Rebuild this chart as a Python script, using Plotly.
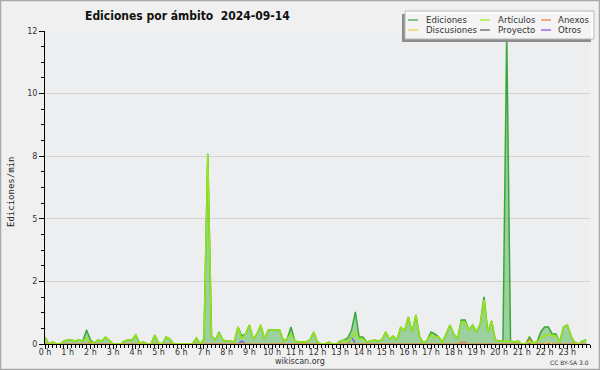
import plotly.graph_objects as go

# ---- data (edits per minute, 10-minute bins) ----
minutes = list(range(0, 1440, 10))

ediciones = [0.28, 0, 0.08, 0, 0, 0.12, 0.16, 0.16, 0.12, 0.16, 0.12, 0.56,
             0.16, 0.04, 0.16, 0.12, 0.28, 0.12, 0, 0, 0, 0.12, 0.16, 0.16,
             0.36, 0.04, 0.08, 0, 0, 0.36, 0.04, 0, 0.28, 0.2, 0, 0,
             0, 0, 0, 0, 0.24, 0, 0.2, 7.6, 0.32, 0.16, 0.48, 0.16,
             0.12, 0.12, 0.08, 0.68, 0.32, 0.4, 0.76, 0.2, 0.4, 0.76, 0.2, 0.56,
             0.56, 0.56, 0.56, 0.12, 0.2, 0.68, 0.12, 0.08, 0.08, 0.08, 0.16, 0.48,
             0.08, 0, 0, 0.08, 0, 0, 0.12, 0.16, 0.24, 0.56, 1.28, 0.28,
             0.28, 0.08, 0.12, 0.16, 0.12, 0.16, 0.48, 0.2, 0.32, 0.16, 0.68, 0.52,
             1.08, 0.48, 1.16, 0.28, 0.04, 0.16, 0.48, 0.4, 0.28, 0.08, 0.4, 0.76,
             0.4, 0.2, 0.96, 0.96, 0.56, 0.76, 0.48, 0.8, 1.88, 0.48, 0.92, 0.16,
             0.12, 0.12, 12.4, 0.12, 0.08, 0.12, 0, 0, 0.28, 0.04, 0.08, 0.48,
             0.68, 0.68, 0.4, 0.4, 0.08, 0.68, 0.76, 0.32, 0.04, 0, 0.12, 0.16]

articulos = [0.28, 0, 0.08, 0, 0, 0.12, 0.16, 0.16, 0.12, 0.16, 0.12, 0.24,
             0.08, 0.04, 0.16, 0.12, 0.28, 0.12, 0, 0, 0, 0.12, 0.16, 0.16,
             0.36, 0.04, 0.08, 0, 0, 0.36, 0.04, 0, 0.28, 0.2, 0, 0,
             0, 0, 0, 0, 0.24, 0, 0.2, 7.6, 0.32, 0.16, 0.44, 0.16,
             0.12, 0.12, 0.08, 0.68, 0.2, 0.4, 0.76, 0.2, 0.4, 0.76, 0.2, 0.56,
             0.56, 0.56, 0.56, 0.12, 0.2, 0.4, 0.12, 0.08, 0.08, 0.08, 0.16, 0.48,
             0.08, 0, 0, 0.08, 0, 0, 0.12, 0.16, 0.08, 0.24, 0.48, 0.2,
             0.2, 0.08, 0.12, 0.16, 0.12, 0.16, 0.48, 0.2, 0.32, 0.16, 0.68, 0.52,
             1.08, 0.48, 1.16, 0.28, 0.04, 0.16, 0.36, 0.28, 0.28, 0.08, 0.4, 0.76,
             0.4, 0.2, 0.88, 0.88, 0.56, 0.76, 0.48, 0.8, 1.76, 0.48, 0.92, 0.16,
             0.12, 0.12, 0.08, 0.12, 0.08, 0.12, 0, 0, 0.12, 0.04, 0.08, 0.24,
             0.32, 0.36, 0.36, 0.32, 0.08, 0.68, 0.76, 0.32, 0.04, 0, 0.12, 0.16]

anexos = [0] * 144
for i, v in {12: 0.08, 110: 0.08, 111: 0.08, 128: 0.2, 140: 0.08}.items():
    anexos[i] = v
discusiones = [0] * 144
for i, v in {128: 0.08, 133: 0.08}.items():
    discusiones[i] = v
otros = [0] * 144
for i, v in {52: 0.12, 81: 0.28}.items():
    otros[i] = v
proyecto = [0] * 144

hour_ticks = list(range(0, 1440, 60))
hour_labels = [f"{h} h" for h in range(24)]
y_tickvals = [0, 2.5, 5, 7.5, 10, 12.5]
y_ticktext = ["0", "2", "5", "8", "10", "12"]

# ---- layout helpers ----
W, H = 600, 370
L, R, T, B = 45, 10, 31, 26
PW, PH = W - L - R, H - T - B


def X(px):
    return (px - L) / PW


def Y(py):
    return (H - B - py) / PH


C_ED = "#38a838"
C_ART = "#99e614"
C_ANX = "#ee7744"
C_DIS = "#eecc44"
C_PRO = "#555555"
C_OTR = "#8844ee"

fig = go.Figure()
fig.add_trace(go.Scatter(x=minutes, y=ediciones, mode="lines", fill="tozeroy",
                         fillcolor="rgba(60,170,60,0.45)",
                         line=dict(color=C_ED, width=1.5), showlegend=False))
for vals, col in [(proyecto, C_PRO), (otros, C_OTR), (anexos, C_ANX), (discusiones, C_DIS)]:
    fig.add_trace(go.Scatter(x=minutes, y=vals, mode="lines",
                             line=dict(color=col, width=1.2), showlegend=False))
fig.add_trace(go.Scatter(x=minutes, y=articulos, mode="lines",
                         line=dict(color=C_ART, width=1.5), showlegend=False))

font_base = "DejaVu Sans, Verdana, sans-serif"

fig.update_layout(
    width=W, height=H,
    margin=dict(l=L, r=R, t=T, b=B),
    paper_bgcolor="#f0f0f0",
    plot_bgcolor="#eceef0",
    font=dict(family=font_base, size=8, color="#333333"),
    title=dict(text="<b>Ediciones por ámbito  2024-09-14</b>",
               x=85 / W, xanchor="left", xref="container",
               y=1 - 16 / H, yanchor="middle", yref="container",
               font=dict(family="Liberation Sans Narrow, DejaVu Sans Condensed, DejaVu Sans",
                         size=12, color="#111111")),
    xaxis=dict(range=[0, 1440], tickvals=hour_ticks, ticktext=hour_labels,
               showgrid=False, zeroline=False, showline=True, linecolor="black",
               linewidth=1, ticks="outside", ticklen=4, tickcolor="black",
               tickfont=dict(size=8, color="#333333"), ticklabelstandoff=-4,
               minor=dict(dtick=10, tick0=0, ticks="outside", ticklen=3,
                          tickcolor="black", showgrid=False),
               fixedrange=True),
    yaxis=dict(range=[0, 12.5], tickvals=y_tickvals, ticktext=y_ticktext,
               showgrid=True, gridcolor="#d2d2d2", gridwidth=1, zeroline=False,
               showline=True, linecolor="black", linewidth=1,
               ticks="outside", ticklen=5, tickcolor="black",
               tickfont=dict(size=8, color="#333333"),
               minor=dict(dtick=0.625, tick0=0, ticks="outside", ticklen=3,
                          tickcolor="black", showgrid=False),
               fixedrange=True),
    showlegend=False,
)

shapes = [
    # outer frame
    dict(type="rect", xref="paper", yref="paper", x0=X(0.5), x1=X(W - 0.5),
         y0=Y(H - 0.5), y1=Y(0.5), line=dict(color="#a8a8a8", width=1.5),
         fillcolor="rgba(0,0,0,0)", layer="above"),
    # legend shadow and box
    dict(type="rect", xref="paper", yref="paper", x0=X(402), x1=X(591),
         y0=Y(42), y1=Y(14), line=dict(width=0), fillcolor="#8c8c8c", layer="above"),
    dict(type="rect", xref="paper", yref="paper", x0=X(405), x1=X(594),
         y0=Y(39), y1=Y(11), line=dict(color="#b8b8b8", width=1),
         fillcolor="rgba(252,252,252,0.93)", layer="above"),
]

legend_items = [
    ("Ediciones", C_ED, 0, 0), ("Artículos", C_ART, 1, 0), ("Anexos", C_ANX, 2, 0),
    ("Discusiones", C_DIS, 0, 1), ("Proyecto", C_PRO, 1, 1), ("Otros", C_OTR, 2, 1),
]
col_pos = [(408, 418, 424), (480, 490, 496), (541, 551, 556)]
row_pos = [20, 30]
annotations = []
for name, col, c, r in legend_items:
    x0, x1, xt = col_pos[c]
    yy = row_pos[r]
    shapes.append(dict(type="line", xref="paper", yref="paper", x0=X(x0), x1=X(x1),
                       y0=Y(yy), y1=Y(yy), line=dict(color=col, width=1.2), layer="above"))
    annotations.append(dict(text=name, xref="paper", yref="paper", x=X(xt), y=Y(yy),
                            xanchor="left", yanchor="middle", showarrow=False,
                            font=dict(family=font_base, size=8.6, color="#333333")))

annotations += [
    dict(text="Ediciones/min", xref="paper", yref="paper", x=X(11), y=Y(192),
         textangle=-90, showarrow=False, xanchor="center", yanchor="middle",
         font=dict(family="DejaVu Sans Mono, monospace", size=9, color="#222222")),
    dict(text="wikiscan.org", xref="paper", yref="paper", x=X(300), y=Y(361),
         showarrow=False, xanchor="center", yanchor="middle",
         font=dict(family=font_base, size=8, color="#333333")),
    dict(text="CC BY-SA 3.0", xref="paper", yref="paper", x=X(569), y=Y(362),
         showarrow=False, xanchor="center", yanchor="middle",
         font=dict(family=font_base, size=6, color="#333333")),
]

fig.update_layout(shapes=shapes, annotations=annotations)
fig.write_html("out.html", config={"displayModeBar": False},
               post_script="document.body.style.margin='0';document.body.style.padding='0';")
